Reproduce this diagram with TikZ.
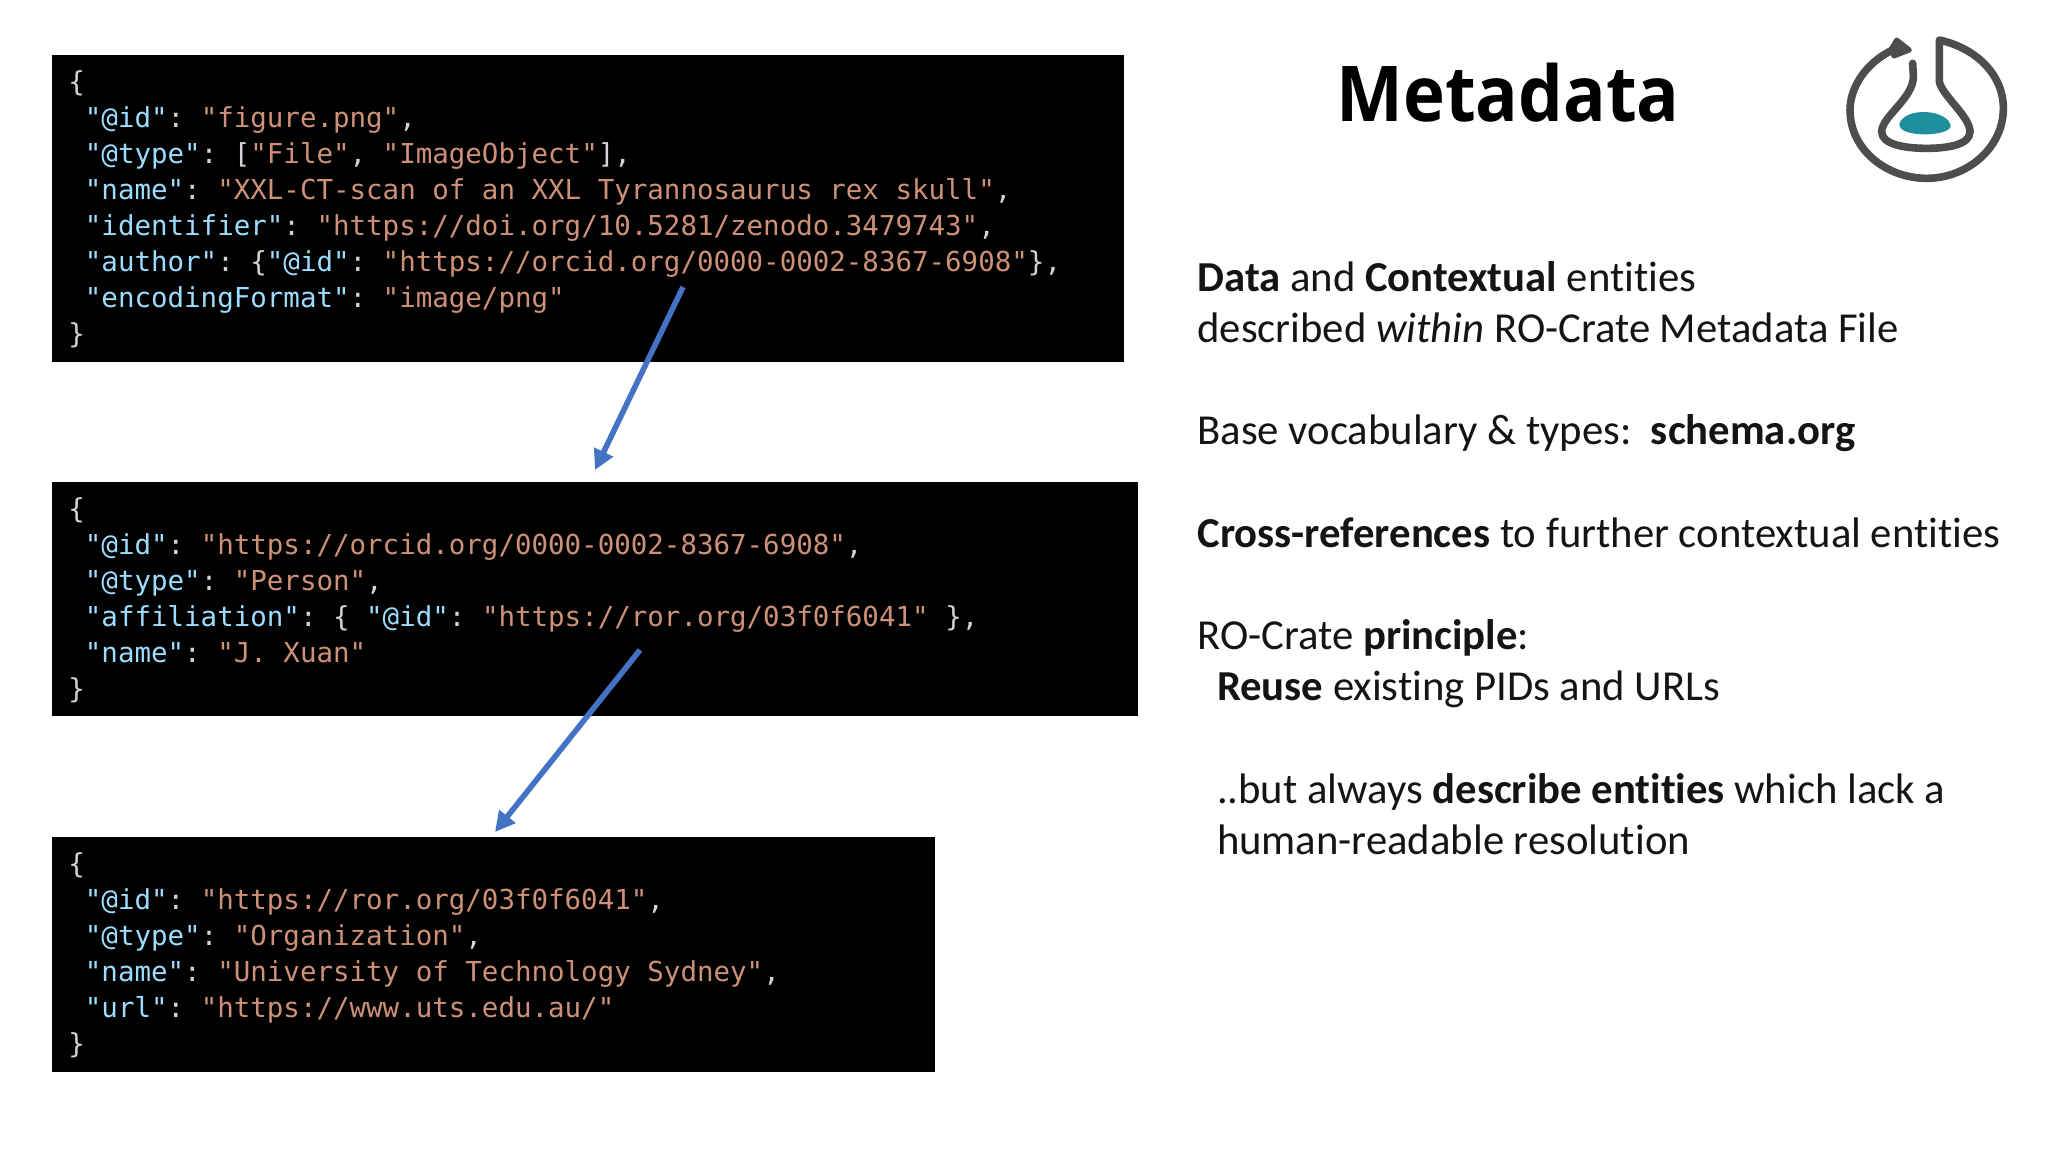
\documentclass[tikz,border=0pt]{standalone}
\usepackage{fontspec}
\setmainfont[Ligatures={NoCommon}]{Carlito}
\newfontfamily\codefont{DejaVu Sans Mono}
\newfontfamily\titlefont[FakeStretch=0.92]{Open Sans}
\usetikzlibrary{arrows.meta}
\definecolor{keyc}{HTML}{9CDCFE}
\definecolor{strc}{HTML}{CE9178}
\definecolor{punc}{HTML}{D4D4D4}
\definecolor{arrowc}{HTML}{4472C4}
\definecolor{logoc}{HTML}{4D4D4D}
\definecolor{tealc}{HTML}{1F8F9F}
\newcommand{\K}[1]{\textcolor{keyc}{#1}}
\newcommand{\V}[1]{\textcolor{strc}{#1}}
\newcommand{\I}{\hspace*{8.27pt}}
\tikzset{
  codebox/.style={fill=black,draw=none,anchor=north west,inner sep=0pt},
  codetext/.style={anchor=north west,inner sep=0pt,align=left,text=punc,
    font=\codefont\fontsize{13.74}{17.95}\selectfont\frenchspacing},
  linkarrow/.style={draw=arrowc,line width=2.8pt,-{Triangle[length=10pt,width=10pt]}},
  bodytext/.style={anchor=north west,inner sep=0pt,align=left,text=black!92,
    font=\fontsize{21.35}{25.6}\selectfont},
  logoline/.style={draw=logoc,line width=3.8pt,line cap=round,line join=round}
}
\begin{document}
\begin{tikzpicture}[x=0.5pt,y=-0.5pt]
\useasboundingbox (0,0) rectangle (2048,1152);
\fill[white] (0,0) rectangle (2048,1152);

\node[codebox,minimum width=536pt,minimum height=153.5pt] (box1) at (52,55) {};
\node[codebox,minimum width=543pt,minimum height=117pt] (box2) at (52,482) {};
\node[codebox,minimum width=441.5pt,minimum height=117.5pt] (box3) at (52,837) {};

\node[codetext] (code1) at (68,70.5) {\{\\
\I\K{"@id"}: \V{"figure.png"},\\
\I\K{"@type"}: [\V{"File"}, \V{"ImageObject"}],\\
\I\K{"name"}: \V{"XXL-CT-scan of an XXL Tyrannosaurus rex skull"},\\
\I\K{"identifier"}: \V{"https://doi.org/10.5281/zenodo.3479743"},\\
\I\K{"author"}: \{\K{"@id"}: \V{"https://orcid.org/0000-0002-8367-6908"}\},\\
\I\K{"encodingFormat"}: \V{"image/png"}\\
\}};

\node[codetext] (code2) at (68,497.5) {\{\\
\I\K{"@id"}: \V{"https://orcid.org/0000-0002-8367-6908"},\\
\I\K{"@type"}: \V{"Person"},\\
\I\K{"affiliation"}: \{ \K{"@id"}: \V{"https://ror.org/03f0f6041"} \},\\
\I\K{"name"}: \V{"J. Xuan"}\\
\}};

\node[codetext] (code3) at (68,852.5) {\{\\
\I\K{"@id"}: \V{"https://ror.org/03f0f6041"},\\
\I\K{"@type"}: \V{"Organization"},\\
\I\K{"name"}: \V{"University of Technology Sydney"},\\
\I\K{"url"}: \V{"https://www.uts.edu.au/"}\\
\}};

\coordinate (a1s) at (683,287);
\coordinate (a1e) at (595,470);
\coordinate (a2s) at (640,650);
\coordinate (a2e) at (495,832);
\draw[linkarrow] (a1s) -- (a1e);
\draw[linkarrow] (a2s) -- (a2e);

\node[anchor=base,inner sep=0pt,font=\titlefont\bfseries\fontsize{38.5}{44}\selectfont,text=black] (title) at (1508,121) {Metadata};

\node[bodytext] (body) at (1197,261) {%
\textbf{Data} and \textbf{Contextual} entities\\
described \textit{within} RO-Crate Metadata File\\[25.6pt]
Base vocabulary \& types:\ \ \textbf{schema.org}\\[25.6pt]
\textbf{Cross-references} to further contextual entities\\[25.6pt]
RO-Crate \textbf{principle}:\\
\hspace*{9.8pt}\textbf{Reuse} existing PIDs and URLs\\[25.6pt]
\hspace*{9.8pt}..but always \textbf{describe entities} which lack a\\
\hspace*{9.8pt}human-readable resolution};

\begin{scope}[shift={(1800,20)},x=0.16667pt,y=-0.16667pt]
\draw[logoline] (282,88) .. controls (200,125) and (150,200) .. (150,270)
  .. controls (150,390) and (260,475) .. (380,475)
  .. controls (500,475) and (610,385) .. (610,265)
  .. controls (610,165) and (530,85) .. (418,60)
  -- (418,185)
  .. controls (425,225) and (510,290) .. (510,335)
  .. controls (510,375) and (440,385) .. (380,385)
  .. controls (320,385) and (245,375) .. (245,335)
  .. controls (245,290) and (340,235) .. (340,170)
  -- (338,130);
\fill[logoc,draw=logoc,line width=2.5pt,line join=round] (290,60) -- (328,90) -- (282,108) -- (272,90) -- cycle;
\fill[tealc] (298,312) .. controls (305,285) and (345,275) .. (375,276)
  .. controls (415,277) and (450,295) .. (452,318)
  .. controls (450,335) and (410,343) .. (375,343)
  .. controls (335,343) and (298,335) .. (298,312) -- cycle;
\end{scope}
\end{tikzpicture}
\end{document}
